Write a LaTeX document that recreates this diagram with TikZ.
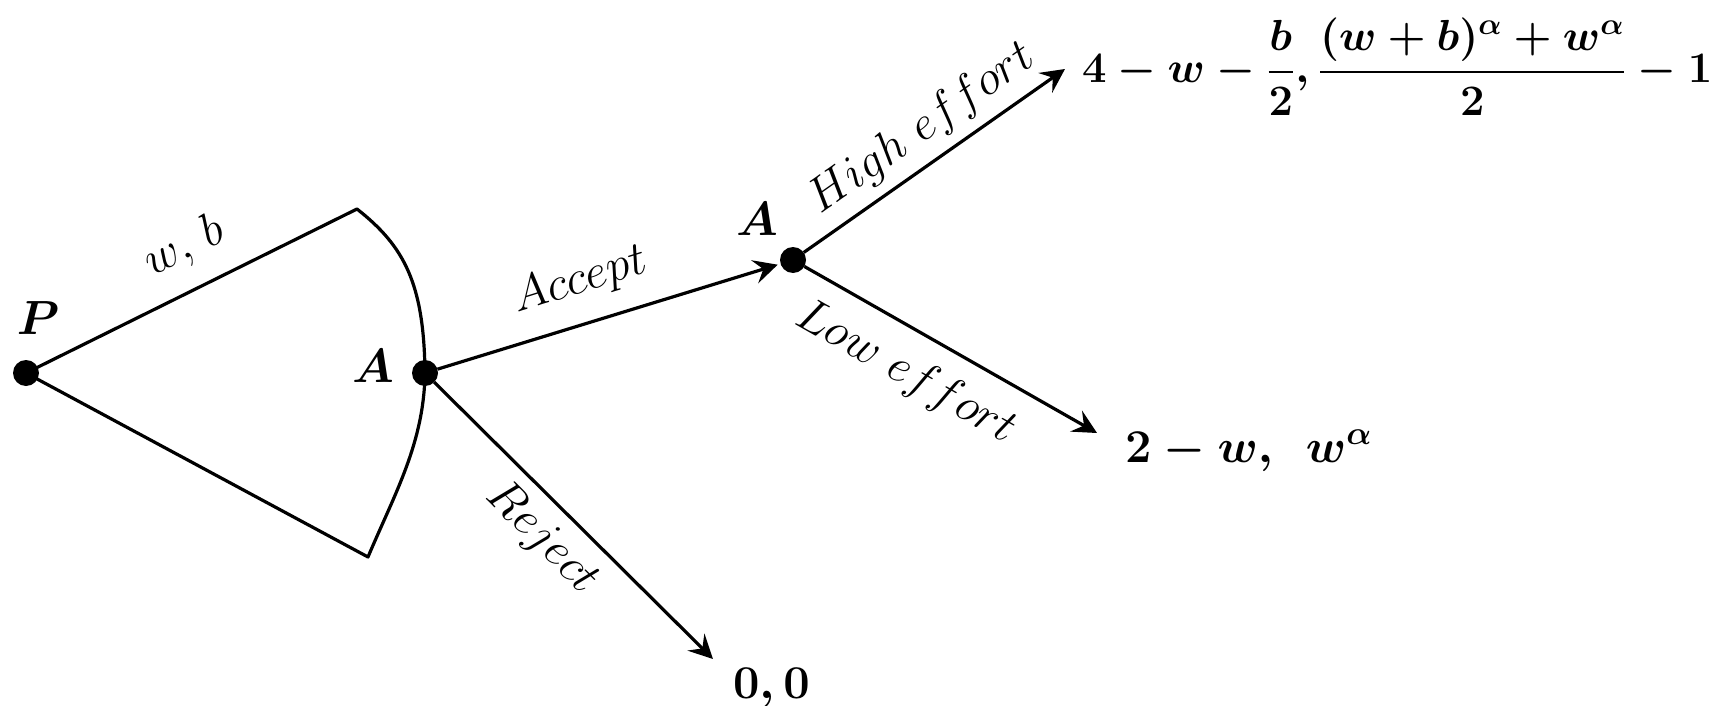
\RequirePackage{fix-cm}
\documentclass[tikz,border=0pt]{standalone}
\usepackage{amsmath}
\usetikzlibrary{arrows.meta}
\begin{document}
\begin{tikzpicture}[x=0.5pt,y=-0.5pt,
  every node/.style={inner sep=0pt, outer sep=0pt},
  dot/.style={circle, fill=black, minimum size=13pt, inner sep=0pt},
  edge/.style={line width=1.6pt, line join=round},
  arr/.style={edge, -{Stealth[length=12pt,width=12pt,inset=4.5pt]}},
  lbl/.style={font=\fontsize{24}{29}\selectfont},
  bl/.style={font=\fontsize{24}{29}\selectfont\mathversion{bold}},
  pay/.style={font=\fontsize{23.5}{28}\selectfont\mathversion{bold}, anchor=base west},
  paytop/.style={font=\fontsize{21.75}{26}\selectfont\mathversion{bold}, anchor=base west}
]
\useasboundingbox (0,0) rectangle (1719,706);

\node[dot] (P) at (26,373) {};
\node[dot] (A1) at (425,373) {};
\node[dot] (A2) at (793,260) {};
\coordinate (U) at (357,209);
\coordinate (L) at (368,557);
\coordinate (tHi) at (1065,69);
\coordinate (tLo) at (1097,433);
\coordinate (tRe) at (713,659);

\draw[edge] (P.center) -- (U) .. controls (404,246) and (424,283) .. (A1.center)
  .. controls (424,443) and (395,493) .. (L) -- (P.center);

\draw[arr, shorten >=1.5pt] (A1) -- (A2);
\draw[arr] (A1) -- (tRe);
\draw[arr] (A2) -- (tHi);
\draw[arr] (A2) -- (tLo);

\node[lbl, rotate=26.4] (lwb) at (185,247) {$w,\,b$};
\node[lbl, rotate=17.4] (lacc) at (580,281) {$Accept$};
\node[lbl, rotate=35.1] (lhi) at (922,129) {$High\ effort$};
\node[lbl, rotate=-29.6] (llo) at (906,373) {$Low\ effort$};
\node[lbl, rotate=-45] (lre) at (542,538) {$Reject$};
\node[bl] (lP) at (38,318) {$P$};
\node[bl] (lA1) at (373,366) {$A$};
\node[bl] (lA2) at (757,219) {$A$};

\node[paytop] (pHi) at (1082,83) {$4-w-\dfrac{b}{2},\dfrac{(w+b)^{\alpha}+w^{\alpha}}{2}-1$};
\node[pay] (pLo) at (1125,462) {$2-w,\;\,w^{\alpha}$};
\node[pay] (pRe) at (733,698) {$0,0$};
\end{tikzpicture}
\end{document}
